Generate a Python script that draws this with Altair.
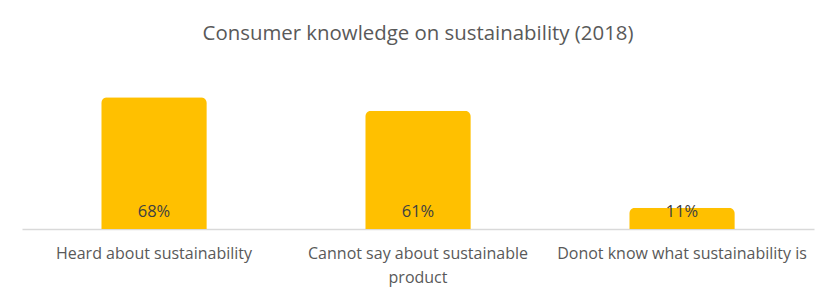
import altair as alt
import pandas as pd

categories = ["Heard about sustainability", "Cannot say about sustainable product", "Donot know what sustainability is"]
values = [68, 61, 11]
labels = ["68%", "61%", "11%"]

df = pd.DataFrame({"category": categories, "value": values, "label": labels})

FONT = "Open Sans"
GREY = "#595959"

x_enc = alt.X(
    "category:N",
    sort=categories,
    scale=alt.Scale(paddingInner=0.6, paddingOuter=0.3),
    axis=alt.Axis(
        title=None,
        labelAngle=0,
        labelFont=FONT,
        labelFontSize=16,
        labelColor=GREY,
        labelPadding=16,
        labelLineHeight=24,
        labelLimit=400,
        labelExpr="datum.value == 'Cannot say about sustainable product' ? ['Cannot say about sustainable', 'product'] : datum.value",
        ticks=False,
        domainColor="#d9d9d9",
        domainWidth=1.5,
    ),
)

bars = alt.Chart(df).mark_bar(
    color="#FFC000",
    cornerRadiusTopLeft=6,
    cornerRadiusTopRight=6,
).encode(
    x=x_enc,
    y=alt.Y("value:Q", scale=alt.Scale(domain=[0, 80]), axis=None),
)

text = alt.Chart(df).transform_calculate(base="0").mark_text(
    font=FONT, fontSize=16.5, color="#404040", baseline="bottom", dy=-9
).encode(
    x=alt.X("category:N", sort=categories),
    y=alt.Y("base:Q"),
    text="label:N",
)

chart = (bars + text).properties(
    width=792,
    height=155,
    padding={"left": 22, "top": 74, "right": 23, "bottom": 72},
    autosize=alt.AutoSizeParams(type="none"),
    title=alt.TitleParams(
        "Consumer knowledge on sustainability (2018)",
        font=FONT,
        fontSize=20.4,
        fontWeight="normal",
        color=GREY,
        anchor="middle",
        offset=30,
    ),
).configure_view(stroke=None).configure_axis(grid=False)

chart.save("out.html", embed_options={"renderer": "svg", "actions": False})
